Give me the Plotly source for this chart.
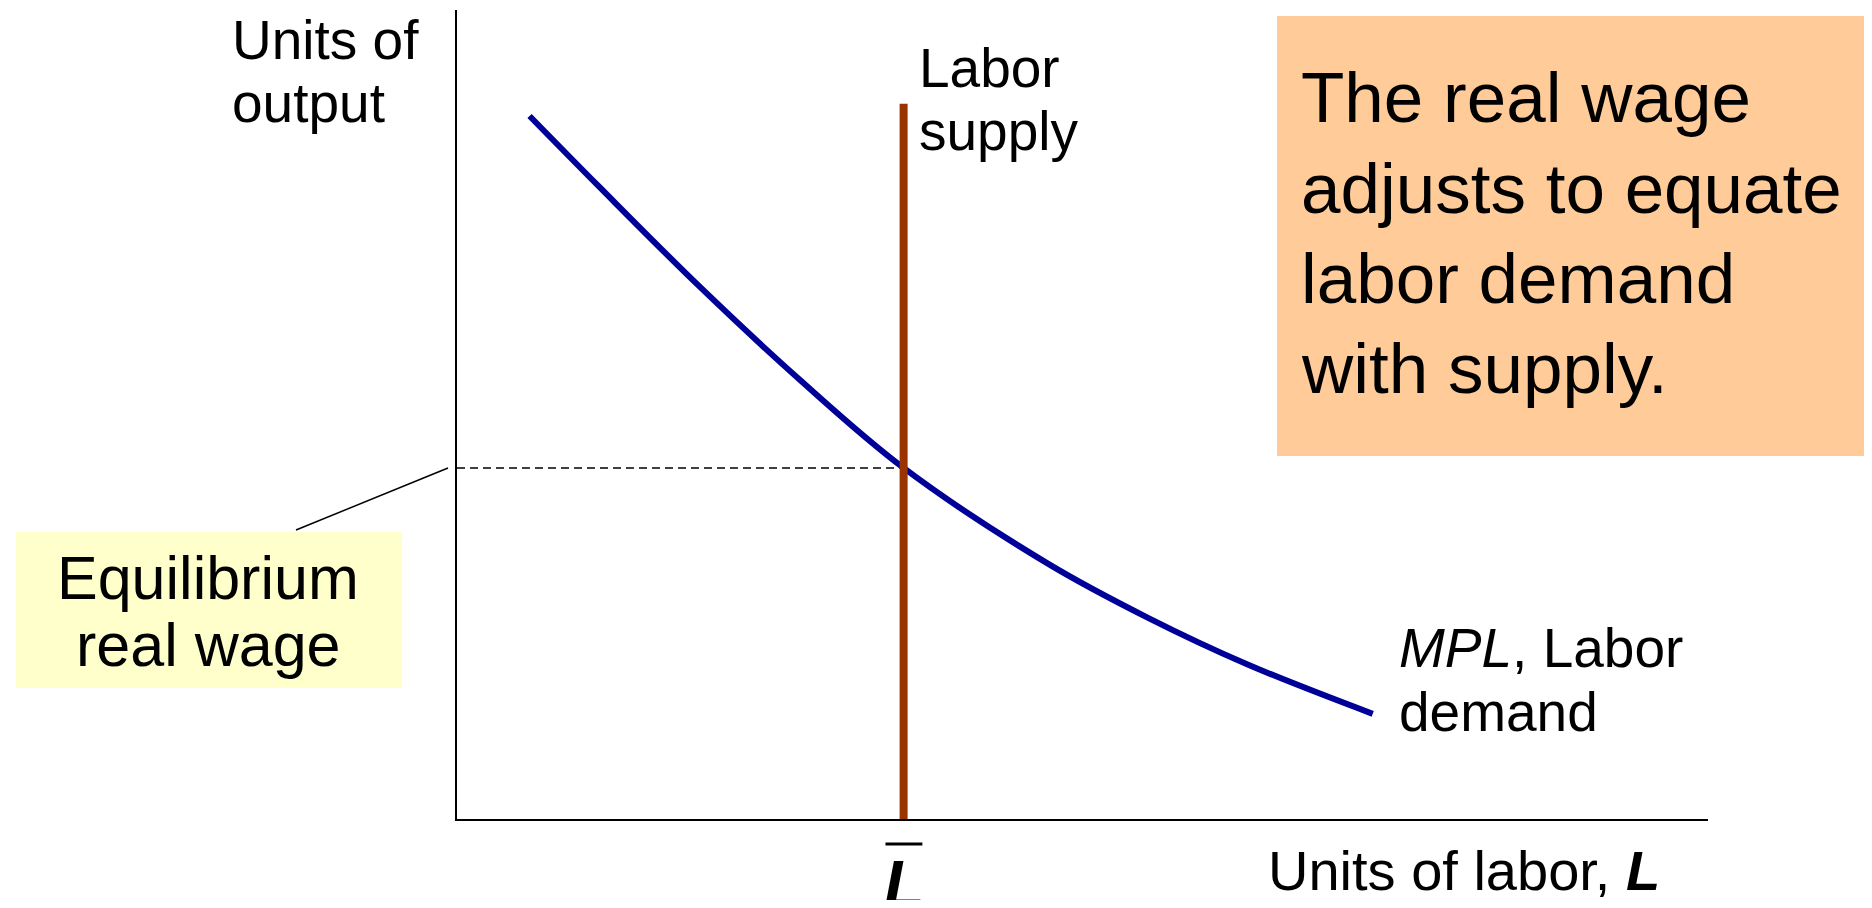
import plotly.graph_objs as go

# labor demand (MPL) curve
mpl_labor = [5.8, 11.4, 19.4, 27.4, 35.7, 47.2, 55.2, 63.2, 73.2]
mpl_wage = [86.9, 78.1, 65.8, 54.3, 43.4, 31.6, 24.9, 19.1, 13.0]

# fixed labor supply and the equilibrium
labor_bar = 35.7
supply_top = 88.4
eq_wage = 43.4

box_lines = ['The real wage', 'adjusts to equate', 'labor demand', 'with supply.']

FONT = 'Liberation Sans, Arial, sans-serif'

# page size (browser body keeps its 8px margin)
W, H, OFF = 1856, 892, 8


def px(x):
    return (x - OFF) / W


def py(y):
    return 1 - (y - OFF) / H


trace_mpl = go.Scatter(
    x=mpl_labor,
    y=mpl_wage,
    mode='lines',
    line=dict(color='#000099', width=6, shape='spline', smoothing=1.0),
    hoverinfo='skip'
)

trace_supply = go.Scatter(
    x=[labor_bar, labor_bar],
    y=[0, supply_top],
    mode='lines',
    line=dict(color='#993300', width=8),
    hoverinfo='skip'
)

trace_eq = go.Scatter(
    x=[0, labor_bar],
    y=[eq_wage, eq_wage],
    mode='lines',
    line=dict(color='black', width=1.5, dash='8px,5px'),
    hoverinfo='skip'
)


def label(text, x, y, size, xanchor='left'):
    return dict(
        text=text, xref='paper', yref='paper', x=px(x), y=py(y),
        xanchor=xanchor, yanchor='middle', showarrow=False,
        font=dict(family=FONT, size=size, color='black')
    )


annotations = [
    label('Units of', 230, 40, 55),
    label('output', 230, 103, 55),
    label('Labor', 917, 68, 55),
    label('supply', 917, 131, 55),
    label('Equilibrium', 208, 578, 61, 'center'),
    label('real wage', 208, 645, 61, 'center'),
    label('<i>MPL</i>, Labor', 1397, 648, 55),
    label('demand', 1397, 712, 55),
    label('Units of labor, <b><i>L</i></b>', 1266, 870, 56),
]
for i, t in enumerate(box_lines):
    annotations.append(label(t, 1299, 98 + i * 90, 71))

annotations.append(dict(
    text='<b><i>L</i></b>', xref='x', yref='paper', x=labor_bar, y=py(884),
    xanchor='center', yanchor='middle', showarrow=False,
    font=dict(family=FONT, size=66, color='black')
))

shapes = [
    # orange note box
    dict(type='rect', xref='paper', yref='paper', layer='below',
         x0=px(1277), x1=px(1880), y0=py(16), y1=py(456),
         fillcolor='#FFCC99', line=dict(width=0)),
    # yellow label box
    dict(type='rect', xref='paper', yref='paper', layer='below',
         x0=px(16), x1=px(402), y0=py(532), y1=py(688),
         fillcolor='#FFFFCC', line=dict(width=0)),
    # leader line to the wage
    dict(type='line', xref='paper', yref='paper',
         x0=px(296), y0=py(530), x1=px(448), y1=py(468),
         line=dict(color='black', width=1.5)),
    # bar over L
    dict(type='line', xref='x', yref='paper',
         x0=labor_bar - 1.45, x1=labor_bar + 1.5, y0=py(844), y1=py(844),
         line=dict(color='black', width=3)),
]

layout = go.Layout(
    width=W,
    height=H,
    margin=dict(l=0, r=0, t=0, b=0),
    paper_bgcolor='white',
    plot_bgcolor='rgba(0,0,0,0)',
    showlegend=False,
    xaxis=dict(
        domain=[px(457), px(1708)], range=[0, 100],
        showline=True, linecolor='black', linewidth=2,
        showgrid=False, zeroline=False, showticklabels=False, ticks=''
    ),
    yaxis=dict(
        domain=[py(819), py(10)], range=[0, 100],
        showline=True, linecolor='black', linewidth=2,
        showgrid=False, zeroline=False, showticklabels=False, ticks=''
    ),
    annotations=annotations,
    shapes=shapes
)

fig = go.Figure(data=[trace_eq, trace_mpl, trace_supply], layout=layout)
fig.write_html('out.html')
